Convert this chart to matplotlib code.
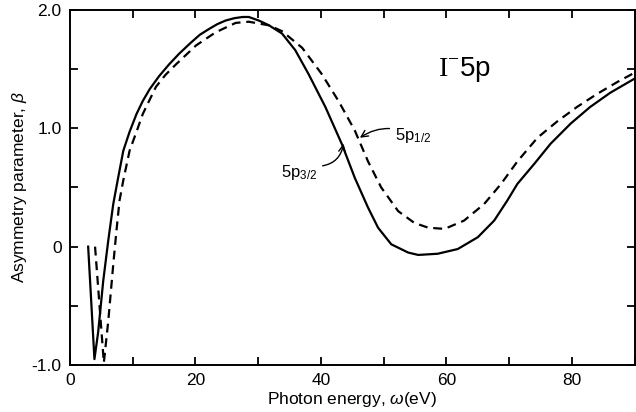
import matplotlib
matplotlib.use("Agg")
import matplotlib.pyplot as plt
from matplotlib.ticker import MultipleLocator

plt.rcParams['font.family'] = ['Liberation Sans', 'DejaVu Sans']
plt.rcParams['mathtext.fontset'] = 'custom'
plt.rcParams['mathtext.rm'] = 'Liberation Serif'
plt.rcParams['mathtext.sf'] = 'Liberation Sans'
plt.rcParams['mathtext.it'] = 'Liberation Sans:italic'

# 5p3/2 (solid)
energy_32 = [2.9, 3.9, 4.5, 5.3, 6.1, 6.9, 7.6, 8.5, 9.5, 10.6, 11.6, 12.7, 14.2,
             15.8, 17.4, 19.2, 20.7, 22.2, 23.5, 24.8, 26.2, 27.5, 28.5, 30.1,
             31.7, 33.8, 35.9, 38.0, 40.7, 43.3, 45.4, 47.5, 49.1, 51.2, 53.9,
             55.5, 58.6, 61.8, 65.0, 67.6, 69.7, 71.3, 74.0, 76.6, 79.8, 82.9,
             86.1, 90.0]
beta_32 = [0.0, -0.95, -0.72, -0.29, 0.05, 0.36, 0.56, 0.81, 0.97, 1.12, 1.23, 1.33, 1.44,
           1.54, 1.63, 1.72, 1.79, 1.84, 1.88, 1.91, 1.93, 1.94, 1.94, 1.91,
           1.87, 1.80, 1.66, 1.46, 1.18, 0.87, 0.58, 0.33, 0.16, 0.02, -0.05,
           -0.07, -0.06, -0.02, 0.08, 0.22, 0.39, 0.53, 0.70, 0.87, 1.04, 1.18,
           1.30, 1.42]

# 5p1/2 (dashed)
energy_12 = [4.0, 5.4, 6.1, 6.9, 7.4, 7.9, 8.5, 9.5, 10.6, 11.6, 13.7, 15.2, 16.9,
             18.5, 20.1, 23.2, 26.4, 28.5, 30.6, 31.7, 33.8, 37.0, 40.1, 42.8,
             45.4, 47.5, 49.6, 52.3, 54.9, 57.1, 59.7, 62.8, 66.0, 68.7, 71.3,
             74.5, 77.7, 80.8, 84.0, 87.2, 90.0]
beta_12 = [0.0, -0.98, -0.63, -0.15, 0.13, 0.39, 0.56, 0.81, 0.97, 1.12, 1.35, 1.45, 1.54,
           1.62, 1.70, 1.81, 1.89, 1.90, 1.88, 1.87, 1.82, 1.68, 1.46, 1.23,
           0.98, 0.72, 0.50, 0.30, 0.20, 0.16, 0.15, 0.22, 0.36, 0.53, 0.72,
           0.92, 1.06, 1.18, 1.29, 1.39, 1.47]

x_ticks = [0, 20, 40, 60, 80]
y_ticks = [-1.0, 0.0, 1.0, 2.0]
y_tick_labels = ["-1.0", "0", "1.0", "2.0"]

fig = plt.figure(figsize=(6.36, 4.12), dpi=100)
ax = fig.add_axes([0.110, 0.114, 0.888, 0.862])

ax.plot(energy_32, beta_32, color='black', lw=1.6, solid_joinstyle='round')
ax.plot(energy_12, beta_12, color='black', lw=1.6, linestyle=(0, (4, 2.6)))

ax.set_xlim(0, 90)
ax.set_ylim(-1.0, 2.0)
ax.set_xticks(x_ticks)
ax.xaxis.set_minor_locator(MultipleLocator(10))
ax.set_yticks(y_ticks)
ax.set_yticklabels(y_tick_labels)
ax.yaxis.set_minor_locator(MultipleLocator(0.5))
ax.tick_params(which='both', direction='in', top=True, right=True, labelsize=12.5,
               width=1.3, pad=6)
ax.tick_params(which='major', length=6)
ax.tick_params(which='minor', length=6)
for s in ax.spines.values():
    s.set_linewidth(1.4)

ax.set_xlabel(r'Photon energy, $\omega$(eV)', fontsize=12.5, labelpad=1)
ax.set_ylabel(r'Asymmetry parameter, $\beta$', fontsize=12.5)
ax.yaxis.set_label_coords(-0.073, 0.5)

ax.text(62.8, 1.50, r'$\mathrm{I}^{-}$5p', fontsize=20, ha='center', va='center')

ax.annotate(r'5p$_{\mathsf{1/2}}$', xy=(46.2, 0.92), xytext=(51.8, 0.94), fontsize=12,
            va='center', ha='left',
            arrowprops=dict(arrowstyle='->', lw=1.0, color='black',
                            connectionstyle='arc3,rad=0.3', shrinkA=2, shrinkB=0))
ax.annotate(r'5p$_{\mathsf{3/2}}$', xy=(43.6, 0.87), xytext=(33.6, 0.63), fontsize=12,
            va='center', ha='left',
            arrowprops=dict(arrowstyle='->', lw=1.0, color='black',
                            connectionstyle='arc3,rad=0.4', shrinkA=2, shrinkB=0,
                            relpos=(1.0, 0.8)))

fig.savefig('out.png', dpi=100)
